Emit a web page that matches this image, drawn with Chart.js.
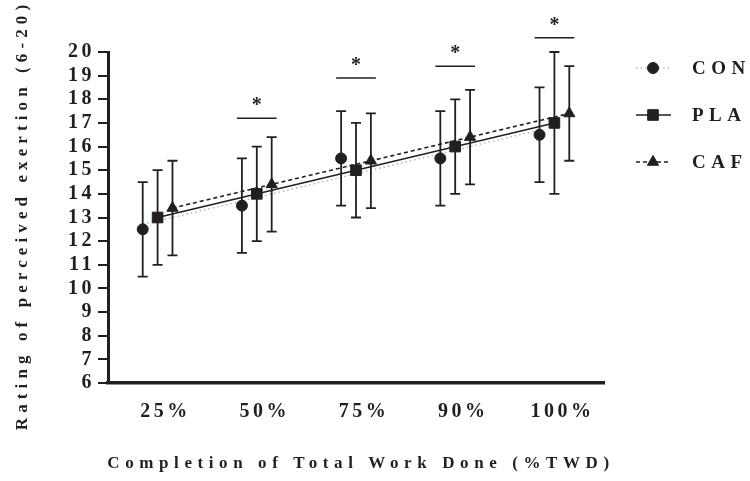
<!DOCTYPE html>
<html>
<head>
<meta charset="utf-8">
<script src="https://cdn.jsdelivr.net/npm/chart.js@4.4.0/dist/chart.umd.min.js"></script>
<style>
  html, body { margin: 0; padding: 0; background: #fff; }
  #wrap { width: 750px; height: 481px; }
</style>
</head>
<body>
<div id="wrap"><canvas id="rpe"></canvas></div>
<script>
const categories = ['25%', '50%', '75%', '90%', '100%'];

// group means and SD bars
const conMean = [12.5, 13.5, 15.5, 15.5, 16.5];
const conSD   = [2, 2, 2, 2, 2];
const plaMean = [13, 14, 15, 16, 17];
const plaSD   = [2, 2, 2, 2, 3];
const cafMean = [13.4, 14.4, 15.4, 16.4, 17.4];
const cafSD   = [2, 2, 2, 2, 2];

// trend line ends (first / last stage)
const conFit = [12.7, 16.7];
const plaFit = [13.0, 17.0];
const cafFit = [13.4, 17.4];

// significance bars
const sigAt    = ['50%', '75%', '90%', '100%'];
const sigLevel = [17.2, 18.9, 19.4, 20.6];

const ink = '#231f20';
const serif = "'Liberation Serif', 'Times New Roman', serif";
const shift = { CON: -0.15, PLA: 0, CAF: 0.15 };

const pts = (vals, off) => vals.map((v, i) => ({ x: i + 1 + off, y: v }));
const fit = (ends, off) => [{ x: 1 + off, y: ends[0] }, { x: categories.length + off, y: ends[1] }];

const datasets = [
  { label: 'CON', data: pts(conMean, shift.CON), sd: conSD, showLine: false, order: 0,
    pointStyle: 'circle', pointRadius: 5.5, pointBackgroundColor: ink, pointBorderColor: ink, pointBorderWidth: 1 },
  { label: 'PLA', data: pts(plaMean, shift.PLA), sd: plaSD, showLine: false, order: 0,
    pointStyle: 'rect', pointRadius: 7.5, pointBackgroundColor: ink, pointBorderColor: ink, pointBorderWidth: 1 },
  { label: 'CAF', data: pts(cafMean, shift.CAF), sd: cafSD, showLine: false, order: 0,
    pointStyle: 'triangle', pointRadius: 6.5, pointBackgroundColor: ink, pointBorderColor: ink, pointBorderWidth: 1 },
  { label: 'CON fit', data: fit(conFit, shift.CON), order: 1, pointRadius: 0,
    borderColor: '#b5b5b5', borderWidth: 1.5, borderDash: [1.5, 3] },
  { label: 'PLA fit', data: fit(plaFit, shift.PLA), order: 1, pointRadius: 0,
    borderColor: ink, borderWidth: 1.6 },
  { label: 'CAF fit', data: fit(cafFit, shift.CAF), order: 1, pointRadius: 0,
    borderColor: ink, borderWidth: 1.6, borderDash: [4, 3] }
];

const spacing = {
  id: 'spacing',
  beforeUpdate(chart) { chart.ctx.letterSpacing = '3.5px'; },
  beforeDraw(chart) { chart.ctx.letterSpacing = '3.5px'; }
};

const errorBars = {
  id: 'errorBars',
  afterDatasetsDraw(chart) {
    const { ctx, scales: { x, y } } = chart;
    ctx.save();
    ctx.strokeStyle = ink;
    ctx.lineWidth = 1.8;
    chart.data.datasets.forEach(ds => {
      if (!ds.sd) return;
      ds.data.forEach((p, i) => {
        const px = x.getPixelForValue(p.x);
        const top = y.getPixelForValue(p.y + ds.sd[i]);
        const bot = y.getPixelForValue(p.y - ds.sd[i]);
        ctx.beginPath();
        ctx.moveTo(px, top); ctx.lineTo(px, bot);
        ctx.moveTo(px - 5, top); ctx.lineTo(px + 5, top);
        ctx.moveTo(px - 5, bot); ctx.lineTo(px + 5, bot);
        ctx.stroke();
      });
    });
    // significance markers
    ctx.lineWidth = 1.6;
    ctx.fillStyle = ink;
    ctx.font = 'bold 20px ' + serif;
    ctx.textAlign = 'center';
    ctx.textBaseline = 'alphabetic';
    ctx.letterSpacing = '0px';
    sigAt.forEach((c, i) => {
      const cx = categories.indexOf(c) + 1;
      const py = y.getPixelForValue(sigLevel[i]);
      ctx.beginPath();
      ctx.moveTo(x.getPixelForValue(cx - 0.2), py);
      ctx.lineTo(x.getPixelForValue(cx + 0.2), py);
      ctx.stroke();
      ctx.fillText('*', x.getPixelForValue(cx), py - 7);
    });
    ctx.restore();
  }
};

const extras = {
  id: 'extras',
  afterDraw(chart) {
    const ctx = chart.ctx;
    const area = chart.chartArea;
    ctx.save();
    ctx.fillStyle = ink;
    ctx.font = 'bold 17px ' + serif;

    // axis titles
    ctx.textAlign = 'center';
    ctx.textBaseline = 'alphabetic';
    ctx.letterSpacing = '5.6px';
    ctx.fillText('Completion of Total Work Done (%TWD)', (area.left + area.right) / 2 + 5, 468);
    ctx.save();
    ctx.translate(27, (area.top + area.bottom) / 2);
    ctx.rotate(-Math.PI / 2);
    ctx.letterSpacing = '5.1px';
    ctx.fillText('Rating of perceived exertion (6-20)', 2.5, 0);
    ctx.restore();

    // legend
    const rows = [
      { ds: chart.data.datasets[0], line: chart.data.datasets[3], y: 68 },
      { ds: chart.data.datasets[1], line: chart.data.datasets[4], y: 115 },
      { ds: chart.data.datasets[2], line: chart.data.datasets[5], y: 162 }
    ];
    ctx.font = 'bold 19px ' + serif;
    ctx.textAlign = 'left';
    ctx.textBaseline = 'middle';
    ctx.letterSpacing = '5.5px';
    rows.forEach(r => {
      ctx.save();
      ctx.strokeStyle = r.line.borderColor;
      ctx.lineWidth = r.line.borderWidth;
      ctx.setLineDash(r.line.borderDash || []);
      ctx.beginPath();
      ctx.moveTo(636, r.y); ctx.lineTo(671, r.y);
      ctx.stroke();
      ctx.restore();
      ctx.save();
      ctx.fillStyle = ink; ctx.strokeStyle = ink;
      Chart.helpers.drawPoint(ctx, { pointStyle: r.ds.pointStyle, radius: r.ds.pointRadius, borderWidth: 1 }, 653, r.y);
      ctx.restore();
      ctx.fillText(r.ds.label, 692, r.y + 1);
    });
    ctx.restore();
  }
};

new Chart(document.getElementById('rpe'), {
  type: 'line',
  data: { datasets },
  plugins: [spacing, errorBars, extras],
  options: {
    responsive: true,
    maintainAspectRatio: false,
    animation: false,
    layout: { padding: { top: 52, right: 146, bottom: 0, left: 0 } },
    plugins: { legend: { display: false }, tooltip: { enabled: false } },
    scales: {
      x: {
        type: 'linear',
        min: 0.5,
        max: 5.5,
        afterBuildTicks: s => { s.ticks = categories.map((c, i) => ({ value: i + 1 })); },
        afterFit: s => { s.height = 98; },
        ticks: {
          callback: v => categories[v - 1],
          color: ink,
          font: { family: serif, size: 20, weight: 'bold' },
          padding: 17,
          labelOffset: 8,
          maxRotation: 0,
          autoSkip: false
        },
        grid: { display: false, drawTicks: false },
        border: { display: true, color: ink, width: 3.5 }
      },
      y: {
        min: 6,
        max: 20,
        afterFit: s => { s.width = 108; },
        ticks: {
          stepSize: 1,
          autoSkip: false,
          color: ink,
          font: { family: serif, size: 20, weight: 'bold' },
          padding: 3
        },
        grid: { drawOnChartArea: false, drawTicks: true, tickLength: 10, lineWidth: 2, color: ink },
        border: { display: true, color: ink, width: 3 }
      }
    }
  }
});
</script>
</body>
</html>
